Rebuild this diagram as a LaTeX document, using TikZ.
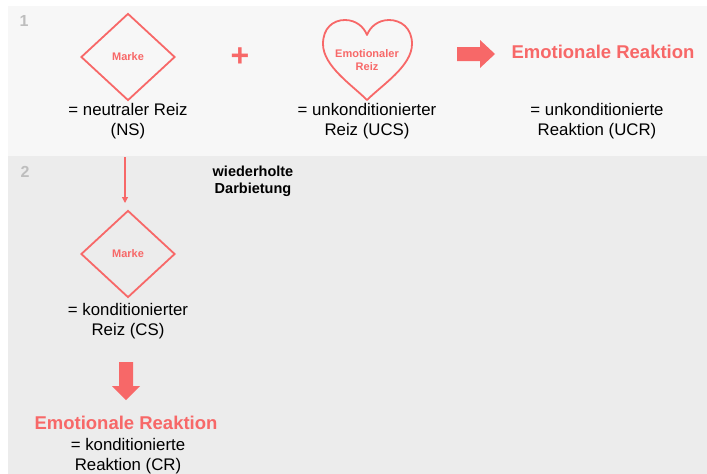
\documentclass[tikz,border=0pt]{standalone}
\usepackage{fontspec}
\setmainfont{Liberation Sans}
\usetikzlibrary{shapes.geometric,arrows.meta}
\definecolor{rd}{RGB}{247,104,104}
\definecolor{bgA}{RGB}{247,247,247}
\definecolor{bgB}{RGB}{236,236,236}
\definecolor{numg}{RGB}{190,190,190}
\tikzset{
  lbl/.style={align=center,font=\fontsize{16.8}{19.5}\selectfont,text=black,inner sep=0pt},
  emo/.style={font=\fontsize{18.5}{20}\selectfont\bfseries,text=rd,inner sep=0pt},
  dia/.style={diamond,draw=rd,line width=1.8pt,minimum width=94pt,minimum height=87pt,inner sep=0pt,aspect=1.08,font=\fontsize{11}{12}\selectfont\bfseries,text=rd},
  num/.style={font=\fontsize{16}{18}\selectfont\bfseries,text=numg,inner sep=0pt},
  blk/.style={fill=rd,draw=none}
}
\begin{document}
\begin{tikzpicture}[x=1pt,y=-1pt]
\useasboundingbox (0,0) rectangle (707,474);
\fill[white] (0,0) rectangle (707,474);
\fill[bgA] (8,6) rectangle (707,156);
\fill[bgB] (8,156) rectangle (707,474);
\node[num] (n1) at (24,21) {1};
\node[num] (n2) at (25,172) {2};
% panel 1
\node[dia] (d1) at (128,57) {Marke};
\node[lbl] (t1) at (128,121) {= neutraler Reiz\\(NS)};
\node[font=\fontsize{32}{32}\selectfont\bfseries,text=rd,inner sep=0pt] (plus) at (240,57) {+};
% heart
\draw[rd,line width=1.8pt,line join=round] (367,100)
  .. controls (352,85) and (323,66) .. (323,44)
  .. controls (323,28) and (333,20) .. (345,20)
  .. controls (356,20) and (364,27) .. (367,35)
  .. controls (370,27) and (378,20) .. (389,20)
  .. controls (401,20) and (412,28) .. (412,44)
  .. controls (412,66) and (382,85) .. (367,100) -- cycle;
\node[align=center,font=\fontsize{11}{13}\selectfont\bfseries,text=rd,inner sep=0pt] (h) at (367,60) {Emotionaler\\Reiz};
\node[lbl] (t2) at (367,121) {= unkonditionierter\\Reiz (UCS)};
\fill[blk] (457,47) -- (480,47) -- (480,40) -- (495,54) -- (480,68) -- (480,61) -- (457,61) -- cycle;
\node[emo] (e1) at (603,52) {Emotionale Reaktion};
\node[lbl] (t3) at (597,121) {= unkonditionierte\\Reaktion (UCR)};
% panel 2
\node[dia] (d2) at (128,254) {Marke};
\coordinate (top) at (125,157);
\draw[rd,line width=1.2pt,-{Triangle[length=6pt,width=6pt]}] (top) -- (125,203);
\node[align=center,font=\fontsize{14.5}{17}\selectfont\bfseries,inner sep=0pt] (wd) at (253,181) {wiederholte\\Darbietung};
\node[lbl] (t4) at (128,321) {= konditionierter\\Reiz (CS)};
\fill[blk] (119,362) -- (133,362) -- (133,386) -- (140,386) -- (126,400) -- (112,386) -- (119,386) -- cycle;
\node[emo] (e2) at (126,423) {Emotionale Reaktion};
\node[lbl] (t5) at (128,456) {= konditionierte\\Reaktion (CR)};
\end{tikzpicture}
\end{document}
